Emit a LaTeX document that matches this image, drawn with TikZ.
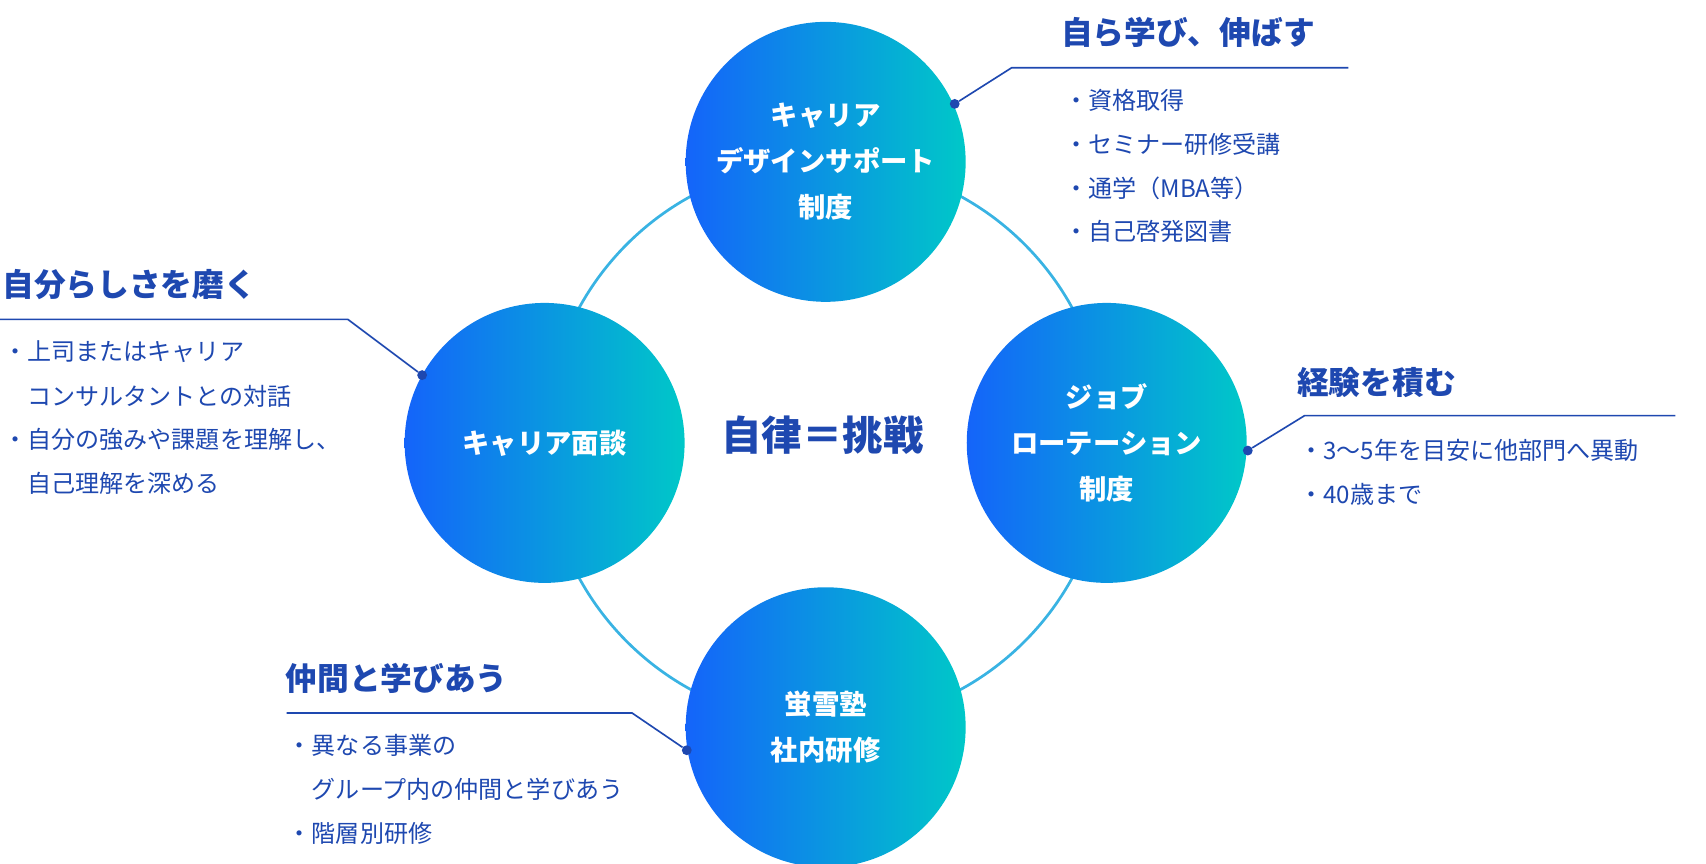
\documentclass[tikz,border=0pt]{standalone}
\usepackage{fontspec}
\setmainfont{Noto Sans CJK JP}
\newfontfamily\jpb{Noto Sans CJK JP}[FakeBold=0]
\definecolor{dblue}{HTML}{1E48B0}
\definecolor{cA}{HTML}{1464FA}
\definecolor{cB}{HTML}{00C8C8}
\begin{document}
\begin{tikzpicture}[x=1pt,y=-1pt,
  bubble/.style={circle,minimum size=256pt,inner sep=0pt,left color=cA,right color=cB,text=white,align=center,font=\fontsize{25}{42}\selectfont\bfseries},
  ttl/.style={anchor=west,text=dblue,font=\fontsize{29}{34}\selectfont\bfseries,inner sep=0pt},
  itm/.style={anchor=west,text=dblue,font=\fontsize{22}{40}\selectfont,inner sep=0pt,align=left},
  lead/.style={draw=dblue,line width=1.5pt},
  dot/.style={circle,fill=dblue,inner sep=0pt,minimum size=9pt}]
\useasboundingbox (0,0) rectangle (1560,790);
\draw[line width=2.5pt,color=cB!60!cA!80!white] (755,405) circle (257);
\node[bubble] (t) at (755,148) {キャリア\\デザインサポート\\制度};
\node[bubble] (l) at (498,405) {キャリア面談};
\node[bubble] (r) at (1012,405) {ジョブ\\ローテーション\\制度};
\node[bubble] (b) at (755,665) {蛍雪塾\\社内研修};
\node[text=dblue,font=\fontsize{37}{40}\selectfont\bfseries] (c) at (752,398) {自律＝挑戦};
% top
\node[dot] (td) at (873,95) {};
\coordinate (tk) at (925,62); \coordinate (te) at (1233,62);
\draw[lead] (td) -- (tk) -- (te);
\node[ttl] (tt) at (970,30) {自ら学び、伸ばす};
\node[itm] (t1) at (973,92) {・資格取得};
\node[itm] (t2) at (973,132) {・セミナー研修受講};
\node[itm] (t3) at (973,172) {・通学（MBA等）};
\node[itm] (t4) at (973,212) {・自己啓発図書};
% right
\node[dot] (rd) at (1141,412) {};
\coordinate (rk) at (1193,380); \coordinate (re) at (1532,380);
\draw[lead] (rd) -- (rk) -- (re);
\node[ttl] (rt) at (1186,350) {経験を積む};
\node[itm] (r1) at (1188,412) {・3〜5年を目安に他部門へ異動};
\node[itm] (r2) at (1188,452) {・40歳まで};
% left
\node[dot] (ld) at (386,343) {};
\coordinate (lk) at (318,292); \coordinate (le) at (0,292);
\draw[lead] (ld) -- (lk) -- (le);
\node[ttl] (lt) at (2,260) {自分らしさを磨く};
\node[itm] (l1) at (3,322) {・上司またはキャリア};
\node[itm] (l2) at (3,362) {\phantom{・}コンサルタントとの対話};
\node[itm] (l3) at (3,402) {・自分の強みや課題を理解し、};
\node[itm] (l4) at (3,442) {\phantom{・}自己理解を深める};
% bottom
\node[dot] (bd) at (628,686) {};
\coordinate (bk) at (578,652); \coordinate (be) at (262,652);
\draw[lead] (bd) -- (bk) -- (be);
\node[ttl] (bt) at (261,620) {仲間と学びあう};
\node[itm] (b1) at (263,682) {・異なる事業の};
\node[itm] (b2) at (263,722) {\phantom{・}グループ内の仲間と学びあう};
\node[itm] (b3) at (263,762) {・階層別研修};
\end{tikzpicture}
\end{document}
